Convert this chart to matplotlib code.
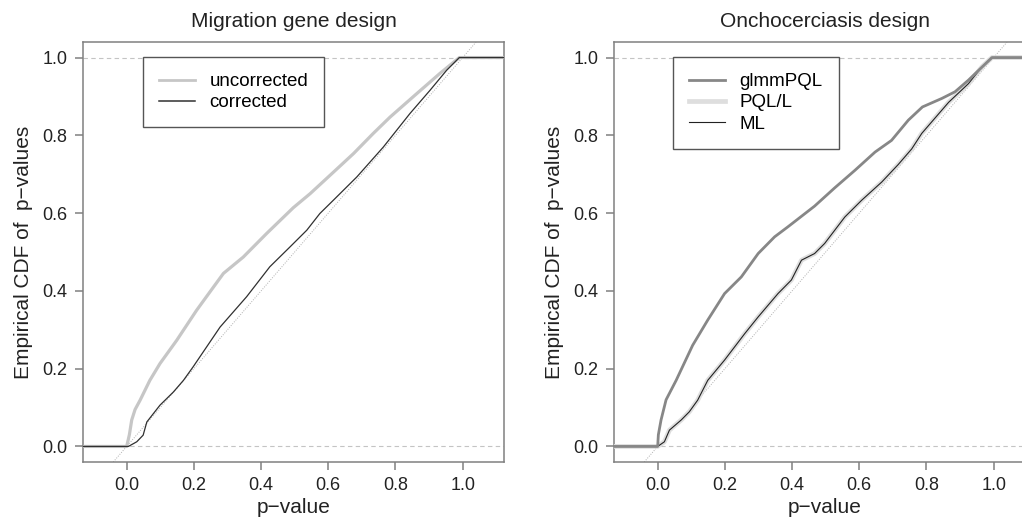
import matplotlib

matplotlib.use("Agg")
import matplotlib.pyplot as plt
from matplotlib.lines import Line2D

plt.rcParams["font.family"] = ["Liberation Sans", "DejaVu Sans"]

# ECDF curves (p-value, cumulative fraction)
mig_uncorr_p = [-0.2, 0.0, 0.008, 0.015, 0.025, 0.04, 0.069, 0.099, 0.149, 0.208, 0.25, 0.288,
                0.347, 0.417, 0.496, 0.546, 0.615, 0.675, 0.734, 0.784, 0.863, 0.932, 0.99, 1.2]
mig_uncorr_F = [0.0, 0.0, 0.03, 0.068, 0.095, 0.119, 0.17, 0.213, 0.273, 0.35, 0.4, 0.445,
                0.487, 0.548, 0.614, 0.65, 0.705, 0.753, 0.805, 0.847, 0.907, 0.959, 1.0, 1.0]

mig_corr_p = [-0.2, 0.005, 0.03, 0.049, 0.06, 0.099, 0.139, 0.169, 0.198, 0.278, 0.357, 0.426,
              0.486, 0.536, 0.575, 0.615, 0.685, 0.764, 0.843, 0.903, 0.952, 0.99, 1.2]
mig_corr_F = [0.0, 0.0, 0.012, 0.029, 0.063, 0.106, 0.14, 0.17, 0.205, 0.307, 0.385, 0.462,
              0.513, 0.556, 0.599, 0.633, 0.693, 0.77, 0.856, 0.916, 0.967, 1.0, 1.0]

oncho_glmm_p = [-0.2, 0.0, 0.002, 0.01, 0.025, 0.055, 0.104, 0.149, 0.199, 0.249, 0.299, 0.348,
                0.388, 0.467, 0.527, 0.587, 0.647, 0.696, 0.746, 0.788, 0.846, 0.885, 0.925,
                0.955, 0.995, 1.2]
oncho_glmm_F = [0.0, 0.0, 0.03, 0.068, 0.12, 0.17, 0.26, 0.325, 0.393, 0.436, 0.496, 0.539,
                0.565, 0.618, 0.665, 0.71, 0.757, 0.787, 0.839, 0.873, 0.895, 0.912, 0.942,
                0.967, 1.0, 1.0]

oncho_ml_p = [-0.2, 0.0, 0.02, 0.035, 0.07, 0.094, 0.119, 0.149, 0.199, 0.259, 0.299, 0.358,
              0.398, 0.428, 0.467, 0.497, 0.557, 0.607, 0.667, 0.716, 0.756, 0.786, 0.866,
              0.925, 0.965, 0.995, 1.2]
oncho_ml_F = [0.0, 0.0, 0.012, 0.042, 0.068, 0.089, 0.119, 0.17, 0.222, 0.29, 0.333, 0.393,
              0.428, 0.479, 0.496, 0.522, 0.59, 0.633, 0.68, 0.725, 0.765, 0.805, 0.885,
              0.933, 0.976, 1.0, 1.0]

# PQL/L coincides with ML in the picture
oncho_pql_p = oncho_ml_p
oncho_pql_F = oncho_ml_F

ticks = [0.0, 0.2, 0.4, 0.6, 0.8, 1.0]
tick_labels = ["0.0", "0.2", "0.4", "0.6", "0.8", "1.0"]

SPINE = "#808080"
TEXT = "#222222"


def style_axis(ax, title):
    ax.set_xlim(-0.13, 1.123)
    ax.set_ylim(-0.04, 1.04)
    ax.axhline(0, color="#c4c4c4", lw=0.8, ls=(0, (4, 3)), zorder=1)
    ax.axhline(1, color="#c4c4c4", lw=0.8, ls=(0, (4, 3)), zorder=1)
    ax.axline((0, 0), (1, 1), color="#b0b0b0", lw=0.7, ls=(0, (1, 1.5)), zorder=1)
    ax.set_xticks(ticks, tick_labels)
    ax.set_yticks(ticks, tick_labels)
    ax.tick_params(length=6, width=1.1, color=SPINE, labelcolor=TEXT, labelsize=13, pad=5)
    for sp in ax.spines.values():
        sp.set_color(SPINE)
        sp.set_linewidth(1.1)
    ax.set_title(title, fontsize=15, color=TEXT, pad=11)
    ax.set_xlabel("p\u2212value", fontsize=15, color=TEXT, labelpad=3)
    ax.set_ylabel("Empirical CDF of  p\u2212values", fontsize=15, color=TEXT, labelpad=7)


def add_legend(ax, handles, labels, x0):
    leg = ax.legend(handles, labels, loc="upper left", bbox_to_anchor=(x0, 0.964),
                    borderaxespad=0, fancybox=False, edgecolor="#555555", framealpha=1,
                    fontsize=13.5, handlelength=1.9, handletextpad=0.8,
                    borderpad=0.85, labelspacing=0.22)
    leg.get_frame().set_linewidth(1.0)


fig = plt.figure(figsize=(10.22, 5.19), dpi=100)
ax1 = fig.add_axes([83 / 1022, 57 / 519, 421 / 1022, 420 / 519])
ax2 = fig.add_axes([614 / 1022, 57 / 519, 421 / 1022, 420 / 519])

# left: migration gene design
style_axis(ax1, "Migration gene design")
ax1.plot(mig_uncorr_p, mig_uncorr_F, color="#c6c6c6", lw=2.3, zorder=3)
ax1.plot(mig_corr_p, mig_corr_F, color="#303030", lw=0.9, zorder=4)
add_legend(ax1,
           [Line2D([], [], color="#c6c6c6", lw=2.0), Line2D([], [], color="#303030", lw=1.1)],
           ["uncorrected", "corrected"], 0.1425)

# right: onchocerciasis design
style_axis(ax2, "Onchocerciasis design")
ax2.plot(oncho_pql_p, oncho_pql_F, color="#dedede", lw=3.4, zorder=3)
ax2.plot(oncho_ml_p, oncho_ml_F, color="#222222", lw=0.8, zorder=4)
ax2.plot(oncho_glmm_p, oncho_glmm_F, color="#878787", lw=2.0, zorder=5)
add_legend(ax2,
           [Line2D([], [], color="#878787", lw=2.0), Line2D([], [], color="#dedede", lw=3.4),
            Line2D([], [], color="#222222", lw=0.8)],
           ["glmmPQL", "PQL/L", "ML"], 0.140)

fig.savefig("out.png", dpi=100)
